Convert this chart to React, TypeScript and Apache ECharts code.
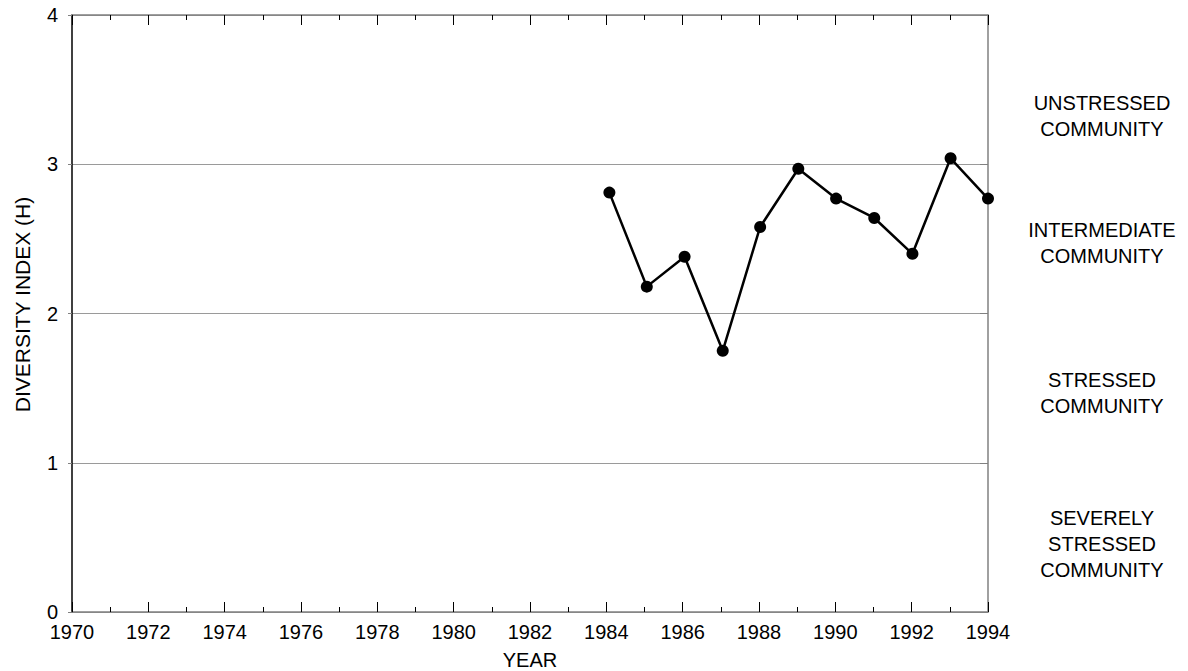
import React, { useEffect, useRef } from "react";
import * as echarts from "echarts";

const years = [1984.08, 1985.06, 1986.05, 1987.05, 1988.03, 1989.03, 1990.02, 1991.02, 1992.02, 1993.02, 1994];
const diversity = [2.81, 2.18, 2.38, 1.75, 2.58, 2.97, 2.77, 2.64, 2.4, 3.04, 2.77];
const zoneLabels = [
  "UNSTRESSED\nCOMMUNITY",
  "INTERMEDIATE\nCOMMUNITY",
  "STRESSED\nCOMMUNITY",
  "SEVERELY\nSTRESSED\nCOMMUNITY",
];
const zoneCenters = [116, 242.5, 392.5, 544];

const FONT = "'Liberation Sans', Arial, Helvetica, sans-serif";

export default function App() {
  const ref = useRef<HTMLDivElement>(null);
  useEffect(() => {
    if (!ref.current) return;
    const chart = echarts.init(ref.current, null, { renderer: "svg" });
    const gray = "#808080";
    const baseX = {
      type: "value",
      min: 1970,
      max: 1994,
      interval: 2,
      splitLine: { show: false },
      axisLine: { show: true, onZero: false, lineStyle: { color: gray, width: 1.5 } },
      axisTick: { show: true, inside: true, length: 10, lineStyle: { color: "#000", width: 1 } },
      minorTick: { show: true, splitNumber: 2, length: 5, lineStyle: { color: "#000", width: 1 } },
      minorSplitLine: { show: false },
    };
    chart.setOption({
      animation: false,
      backgroundColor: "#fff",
      textStyle: { fontFamily: FONT },
      grid: { left: 72, right: 200, top: 15, bottom: 59, containLabel: false, outerBoundsMode: "none" },
      xAxis: [
        {
          ...baseX,
          position: "bottom",
          name: "YEAR",
          nameLocation: "middle",
          nameGap: 38,
          nameTextStyle: { fontSize: 20, color: "#000", fontFamily: FONT },
          axisLabel: { fontSize: 20, color: "#000", margin: 10, fontFamily: FONT, formatter: (v: number) => String(v) },
        },
        {
          ...baseX,
          position: "top",
          axisLabel: { show: false },
        },
      ],
      yAxis: [
        {
          type: "value",
          min: 0,
          max: 4,
          interval: 1,
          position: "left",
          name: "DIVERSITY INDEX (H)",
          nameLocation: "middle",
          nameRotate: 90,
          nameGap: 39,
          nameTextStyle: { fontSize: 21, color: "#000", fontFamily: FONT, padding: [0, 0, 0, 18] },
          axisLine: { show: true, onZero: false, lineStyle: { color: "#000", width: 1.5 } },
          axisTick: { show: true, inside: false, length: 4, lineStyle: { color: gray } },
          axisLabel: { fontSize: 20, color: "#000", margin: 14, fontFamily: FONT },
          splitLine: { show: true, lineStyle: { color: "#9a9a9a", width: 1 } },
        },
        {
          type: "value",
          min: 0,
          max: 4,
          interval: 1,
          position: "right",
          axisLine: { show: true, onZero: false, lineStyle: { color: gray, width: 1.5 } },
          axisTick: { show: true, inside: true, length: 8, lineStyle: { color: gray } },
          axisLabel: { show: false },
          splitLine: { show: false },
        },
      ],
      series: [
        {
          type: "line",
          xAxisIndex: 0,
          yAxisIndex: 0,
          data: years.map((y, i) => [y, diversity[i]]),
          symbol: "circle",
          symbolSize: 12,
          showSymbol: true,
          clip: false,
          lineStyle: { color: "#000", width: 2.5 },
          itemStyle: { color: "#000" },
          z: 5,
        },
      ],
      graphic: zoneLabels.map((t, i) => ({
        type: "text",
        x: 1102,
        y: zoneCenters[i],
        style: {
          text: t,
          fill: "#000",
          fontSize: 20,
          fontFamily: FONT,
          lineHeight: 26,
          align: "center",
          verticalAlign: "middle",
        },
      })),
    });
    return () => chart.dispose();
  }, []);
  return (
    <div
      ref={ref}
      style={{ position: "fixed", left: 0, top: 0, width: 1188, height: 671, background: "#fff" }}
    />
  );
}
